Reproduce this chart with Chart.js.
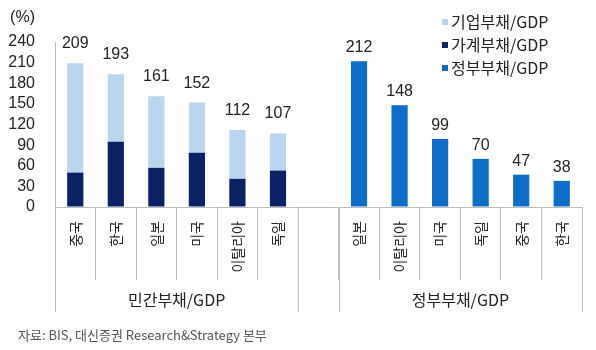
<!DOCTYPE html>
<html>
<head>
<meta charset="utf-8">
<script src="https://cdn.jsdelivr.net/npm/chart.js@4"></script>
<style>
  html, body { margin: 0; padding: 0; background: #fff; }
  #wrap { width: 596px; height: 350px; }
</style>
</head>
<body>
<div id="wrap"><canvas id="c" width="596" height="350"></canvas></div>
<script>
// ---- data ----
const categories = ['중국','한국','일본','미국','이탈리아','독일','','일본','이탈리아','미국','독일','중국','한국'];
const householdDebt = [50, 95, 57, 79, 41, 53, null, null, null, null, null, null, null];
const corporateDebt = [159, 98, 104, 73, 71, 54, null, null, null, null, null, null, null];
const governmentDebt = [null, null, null, null, null, null, null, 212, 148, 99, 70, 47, 38];
const privateTotals = [209, 193, 161, 152, 112, 107];
const groupLabels = ['민간부채/GDP', '정부부채/GDP'];
const seriesNames = { corporate: '기업부채/GDP', household: '가계부채/GDP', government: '정부부채/GDP' };
const yTicks = { min: 0, max: 240, step: 30 };
const unitLabel = '(%)';
const sourceText = '자료: BIS, 대신증권 Research&Strategy 본부';

const FONT = '"Liberation Sans", "Noto Sans CJK KR", sans-serif';
const KFONT = '"Noto Sans CJK KR", "Liberation Sans", sans-serif';
const COLORS = { corporate: '#bcd5ee', household: '#0c2163', government: '#0e6dc6' };
const LINE = '#bdbdbd';
const TEXT = '#222';

const extras = {
  id: 'extras',
  afterDraw(chart) {
    const ctx = chart.ctx;
    const xs = chart.scales.x;
    const ys = chart.scales.y;
    ctx.save();
    // data labels
    ctx.fillStyle = TEXT;
    ctx.font = '16px ' + FONT;
    ctx.textAlign = 'center';
    ctx.textBaseline = 'alphabetic';
    const mCorp = chart.getDatasetMeta(1);
    privateTotals.forEach((t, i) => {
      const el = mCorp.data[i];
      ctx.fillText(String(t), el.x, el.y - 15);
    });
    const mGov = chart.getDatasetMeta(2);
    governmentDebt.forEach((v, i) => {
      if (v == null) return;
      const el = mGov.data[i];
      ctx.fillText(String(v), el.x, el.y - 9);
    });
    // group separator lines
    const b = (i) => (xs.getPixelForValue(i) + xs.getPixelForValue(i + 1)) / 2;
    const gx = [xs.left, b(5), b(6), xs.right];
    ctx.strokeStyle = LINE;
    ctx.lineWidth = 1;
    const y0 = ys.bottom;
    gx.forEach(x => {
      const px = Math.round(x) + 0.5;
      ctx.beginPath();
      ctx.moveTo(px, y0);
      ctx.lineTo(px, 312);
      ctx.stroke();
    });
    // group labels
    ctx.font = '16px ' + KFONT;
    ctx.textBaseline = 'middle';
    ctx.fillStyle = TEXT;
    ctx.fillText(groupLabels[0], (gx[0] + gx[1]) / 2, 300);
    ctx.fillText(groupLabels[1], (gx[2] + gx[3]) / 2, 300);
    // unit label
    ctx.textAlign = 'right';
    ctx.font = '16px ' + FONT;
    ctx.fillText(unitLabel, 35, 18);
    // source
    ctx.textAlign = 'left';
    ctx.fillStyle = '#555';
    ctx.font = '13px ' + KFONT;
    ctx.fillText(sourceText, 18, 335);
    // legend
    const items = [
      [seriesNames.corporate, COLORS.corporate],
      [seriesNames.household, COLORS.household],
      [seriesNames.government, COLORS.government]
    ];
    ctx.font = '16px ' + KFONT;
    items.forEach((it, k) => {
      const y = 22 + k * 23;
      ctx.fillStyle = it[1];
      ctx.fillRect(442, y - 3, 6, 6);
      ctx.fillStyle = TEXT;
      ctx.fillText(it[0], 451, y);
    });
    ctx.restore();
  }
};

new Chart(document.getElementById('c'), {
  type: 'bar',
  data: {
    labels: categories,
    datasets: [
      { label: seriesNames.household, data: householdDebt, backgroundColor: COLORS.household, stack: 's' },
      { label: seriesNames.corporate, data: corporateDebt, backgroundColor: COLORS.corporate, stack: 's' },
      { label: seriesNames.government, data: governmentDebt, backgroundColor: COLORS.government, stack: 's' }
    ]
  },
  options: {
    responsive: false,
    animation: false,
    devicePixelRatio: 1,
    layout: { padding: { top: 42, right: 14, left: 0, bottom: 0 } },
    datasets: { bar: { categoryPercentage: 1.0, barPercentage: 0.4 } },
    plugins: { legend: { display: false }, tooltip: { enabled: false } },
    scales: {
      x: {
        stacked: true,
        offset: true,
        grid: { offset: true, drawOnChartArea: false, drawTicks: true, tickLength: 73, color: LINE },
        border: { display: true, color: LINE },
        ticks: {
          autoSkip: false, minRotation: 90, maxRotation: 90, padding: -59,
          color: TEXT, font: { size: 14, family: KFONT }
        },
        afterFit(scale) { scale.height = 143; }
      },
      y: {
        stacked: true,
        min: yTicks.min, max: yTicks.max,
        grid: { display: true, drawOnChartArea: false, drawTicks: false },
        border: { display: true, color: LINE },
        ticks: { autoSkip: false, stepSize: yTicks.step, padding: 20, color: TEXT, font: { size: 16, family: FONT } },
        afterFit(scale) { scale.width = 55; }
      }
    }
  },
  plugins: [extras]
});
</script>
</body>
</html>
